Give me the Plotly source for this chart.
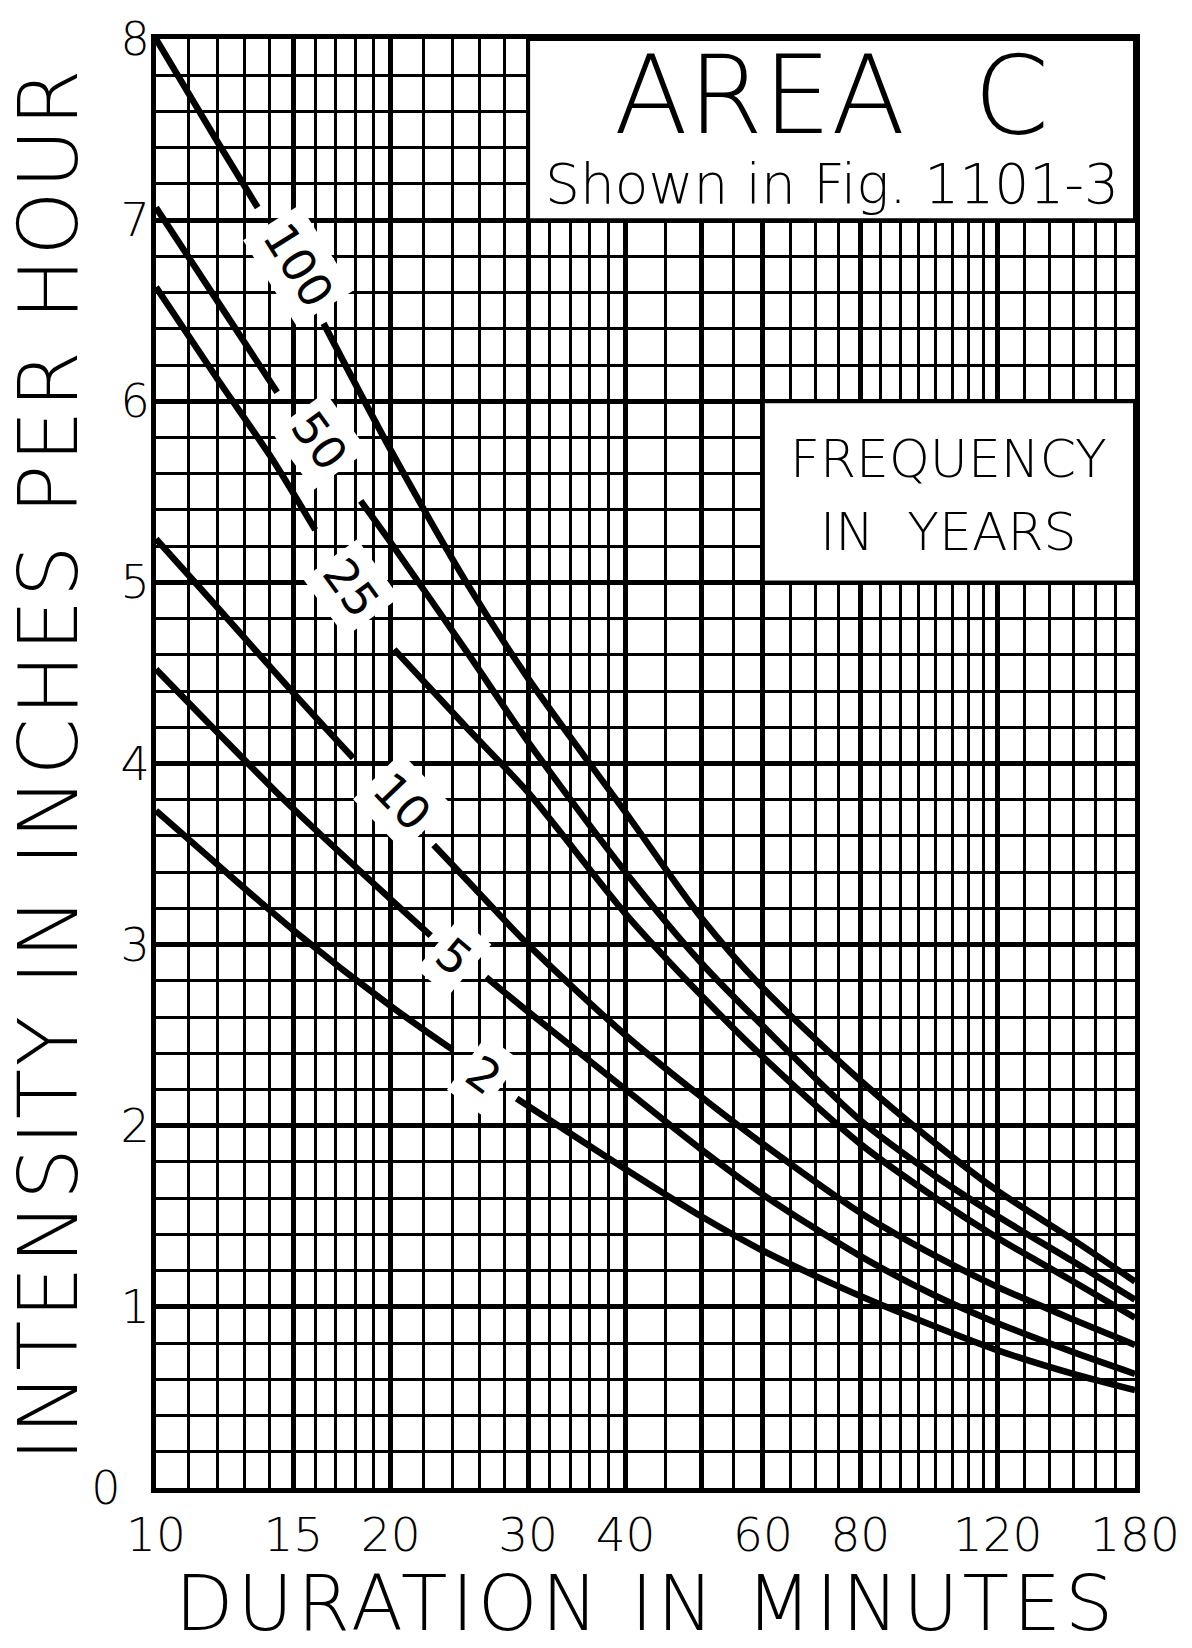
import math
import plotly.graph_objects as go

# ---- data (duration in minutes, intensity in in/hr); None = gap at the curve label
dur_100 = [10, 12, 13.5, None, 16.4, 20, 25, 30, 40, 50, 60, 80, 100, 120, 150, 180]
int_100 = [8.00, 7.43, 7.07, None, 6.43, 5.73, 5.00, 4.47, 3.73, 3.15, 2.76, 2.25, 1.90, 1.64, 1.37, 1.14]

dur_50 = [10, 12, 14.3, None, 18.3, 20, 25, 30, 40, 50, 60, 80, 100, 120, 150, 180]
int_50 = [7.07, 6.55, 6.05, None, 5.45, 5.22, 4.62, 4.12, 3.40, 2.90, 2.55, 2.03, 1.72, 1.50, 1.25, 1.04]

dur_25 = [10, 12, 14, 16, None, 20.2, 25, 30, 40, 50, 60, 80, 100, 120, 150, 180]
int_25 = [6.63, 6.12, 5.70, 5.29, None, 4.63, 4.20, 3.84, 3.17, 2.72, 2.38, 1.90, 1.60, 1.38, 1.14, 0.94]

dur_10 = [10, 12, 15, 17.9, None, 22.7, 25, 30, 40, 50, 60, 80, 100, 120, 150, 180]
int_10 = [5.24, 4.86, 4.39, 4.03, None, 3.55, 3.36, 3.00, 2.50, 2.16, 1.90, 1.52, 1.28, 1.11, 0.93, 0.79]

dur_5 = [10, 12, 15, 20, 22.5, None, 26.5, 30, 40, 50, 60, 80, 100, 120, 150, 180]
int_5 = [4.52, 4.17, 3.75, 3.25, 3.05, None, 2.82, 2.63, 2.20, 1.87, 1.62, 1.28, 1.06, 0.91, 0.75, 0.63]

dur_2 = [10, 12, 15, 20, 24, None, 29, 40, 50, 60, 80, 100, 120, 150, 180]
int_2 = [3.74, 3.44, 3.08, 2.66, 2.42, None, 2.15, 1.76, 1.50, 1.31, 1.06, 0.89, 0.76, 0.63, 0.54]

series = [("100", dur_100, int_100), ("50", dur_50, int_50), ("25", dur_25, int_25),
          ("10", dur_10, int_10), ("5", dur_5, int_5), ("2", dur_2, int_2)]

# curve labels (frequency in years)
label_text = ["100", "50", "25", "10", "5", "2"]
label_dur = [15.2, 16.2, 17.8, 20.7, 24.1, 26.3]
label_int = [6.75, 5.78, 4.97, 3.79, 2.93, 2.28]
label_angle = [58, 54, 54, 46, 40, 36]

# axis ticks / grid
x_major = [10, 15, 20, 30, 40, 50, 60, 80, 120, 180]
x_major_text = ["10", "15", "20", "30", "40", "", "60", "80", "120", "180"]
x_minor = [11, 12, 13, 14, 16, 17, 18, 19, 22, 24, 26, 28, 32, 34, 36, 38, 45, 55,
           65, 70, 75, 85, 90, 95, 100, 105, 110, 115, 130, 140, 150, 160, 170]
y_major = [0, 1, 2, 3, 4, 5, 6, 7, 8]
y_major_text = ["0\u00a0\u00a0", "1", "2", "3", "4", "5", "6", "7", "8"]

FONT = "DejaVu Sans"
FW = 200

fig = go.Figure()
for name, d, v in series:
    fig.add_trace(go.Scatter(x=d, y=v, mode="lines", name=name, connectgaps=False,
                             line=dict(color="black", width=6.5, shape="spline", smoothing=0.8),
                             hoverinfo="skip"))

# label boxes
fig.add_shape(type="rect", xref="x", yref="y", x0=30, x1=180, y0=7, y1=8,
              fillcolor="white", line=dict(color="black", width=4), layer="above")
fig.add_shape(type="rect", xref="x", yref="y", x0=60, x1=180, y0=5, y1=6,
              fillcolor="white", line=dict(color="black", width=4), layer="above")

ann = []
ann.append(dict(text="AREA\u00a0\u00a0C", x=(math.log10(30) + math.log10(180)) / 2, y=7.69,
                xref="x", yref="y", showarrow=False,
                font=dict(family=FONT, size=108, color="black", weight=FW)))
ann.append(dict(text="Shown in Fig. 1101-3", x=(math.log10(30) + math.log10(180)) / 2, y=7.20,
                xref="x", yref="y", showarrow=False,
                font=dict(family=FONT, size=55, color="black", weight=FW)))
ann.append(dict(text="FREQUENCY", x=(math.log10(60) + math.log10(180)) / 2, y=5.68,
                xref="x", yref="y", showarrow=False,
                font=dict(family=FONT, size=52, color="black", weight=FW)))
ann.append(dict(text="IN\u00a0\u00a0YEARS", x=(math.log10(60) + math.log10(180)) / 2, y=5.28,
                xref="x", yref="y", showarrow=False,
                font=dict(family=FONT, size=52, color="black", weight=FW)))

for t, d, v, a in zip(label_text, label_dur, label_int, label_angle):
    ann.append(dict(text=t, x=math.log10(d), y=v, xref="x", yref="y", showarrow=False,
                    textangle=a, bgcolor="white", borderpad=6,
                    font=dict(family=FONT, size=46, color="black", weight=400)))

# axis titles
ann.append(dict(text='<span style="letter-spacing:4px">DURATION IN MINUTES</span>',
                x=0.5, y=(1488 - 1604) / 1455, xref="paper", yref="paper",
                xanchor="center", yanchor="middle", showarrow=False,
                font=dict(family=FONT, size=76, color="black", weight=FW)))
ann.append(dict(text='<span style="letter-spacing:2.5px">INTENSITY IN INCHES PER HOUR</span>',
                x=(48 - 156) / 987, y=0.5, xref="paper", yref="paper",
                xanchor="center", yanchor="middle", textangle=-90, showarrow=False,
                font=dict(family=FONT, size=82, color="black", weight=FW)))

fig.update_layout(
    width=1192, height=1648,
    margin=dict(l=156, r=49, t=33, b=160),
    paper_bgcolor="white", plot_bgcolor="white",
    showlegend=False,
    annotations=ann,
    xaxis=dict(type="log", range=[1, math.log10(180)],
               tickmode="array", tickvals=x_major, ticktext=x_major_text,
               showgrid=True, gridcolor="black", gridwidth=4.5,
               minor=dict(tickmode="array", tickvals=x_minor, showgrid=True,
                          gridcolor="black", gridwidth=2.5, ticks=""),
               showline=True, linecolor="black", linewidth=5, mirror=True,
               ticks="", ticklabelstandoff=2, zeroline=False,
               tickfont=dict(family=FONT, size=47, color="black", weight=FW)),
    yaxis=dict(range=[0, 8], tickmode="array", tickvals=y_major, ticktext=y_major_text,
               showgrid=True, gridcolor="black", gridwidth=4.5,
               minor=dict(tick0=0, dtick=0.2, showgrid=True, gridcolor="black",
                          gridwidth=2.5, ticks=""),
               showline=True, linecolor="black", linewidth=5, mirror=True,
               ticks="", ticklabelstandoff=-8, zeroline=False,
               tickfont=dict(family=FONT, size=46, color="black", weight=FW)),
)

fig.write_html("out.html", config={"displayModeBar": False},
               post_script="document.body.style.margin='0';")
